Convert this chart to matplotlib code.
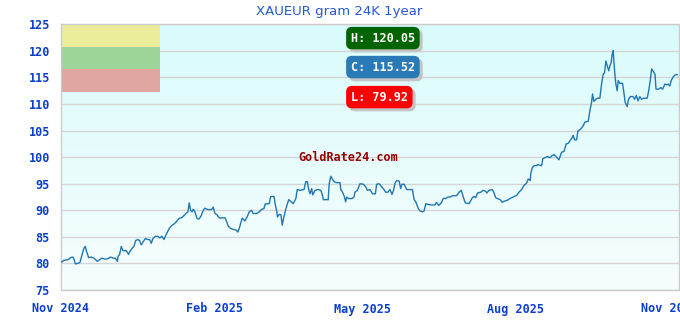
import matplotlib
matplotlib.use("Agg")
import matplotlib.pyplot as plt
import matplotlib.transforms as mtransforms
from matplotlib.colors import LinearSegmentedColormap
import numpy as np
import pandas as pd

# days since 2024-11-01 and XAUEUR price per gram
days = [0, 1.8, 4.2, 5.8, 7.2, 7.8, 8.6, 10.2, 11.4, 12.6, 13.8, 14.6, 15.4, 16.6, 18.2,
        19.8, 21.8, 23.2, 24.6, 26.2, 28.2, 29.8, 31.2, 32.6, 33.8, 34.2, 35.2, 36.2, 37.2,
        39.2, 40.6, 41.2, 42.6, 43.8, 44.8, 46.2, 47.2, 48.2, 49.2, 50.6, 51.8, 53.2, 54.2,
        55.2, 56.6, 58.2, 59.2, 60.6, 61.8, 62.6,
        65, 66.4, 67.8, 69.4, 71, 72.4, 73.8, 75, 76.2, 77, 77.8, 78.6, 79.4, 80.3, 81, 81.8,
        83, 84.2, 85.4, 86.3, 87.5, 89.4, 90.6, 91.4, 92.4, 93.5, 94.4, 95.4, 96.6, 98.4,
        99.4, 100.4, 101.8, 103.4, 105, 106.2, 107, 108, 108.8, 110.4, 111.8, 113, 114.4,
        115.4, 117.5, 119, 120.5, 121.8, 122.6,
        125, 125.9, 127.9, 128.6, 129.4, 130, 131, 132, 132.8, 133.8, 135, 136.7, 137.9,
        139.4, 141, 141.8, 143.5, 145.9, 147, 147.9, 148.7, 149.5, 150.5, 151.1, 152.5,
        154.5, 155.9, 156.7, 157.5, 159.5, 160.4, 161, 162, 163.4, 164.5, 165.5, 167.5, 168,
        169, 170, 170.9, 171.5, 172.7, 174.5, 175.9, 176.5, 177.9, 179.5,
        181.5, 183, 183.9, 185.5, 187, 188.7, 189.5, 191, 192.3, 193.9, 195, 196.2, 197.5,
        198.7, 199.5, 200.5, 201.5, 203, 203.9, 204.7, 206, 207.5, 209.5, 211, 212, 213,
        214.5, 215.5, 217, 218, 219, 220.3, 222.5, 224.5, 225.5, 226.7, 228.3, 229.5, 231,
        232.5, 233.9, 235, 237.5, 239, 240.3, 241.5, 242.7, 245,
        247, 248, 249, 250, 252, 253.4, 254.9, 255.6, 256.9, 258.9, 260, 260.9, 262, 263.7,
        264.8, 266.5, 268, 269.5, 271.5, 273.5, 274.9, 276.5, 278, 279.5, 280.5, 281.7, 282,
        282.9, 284, 285.5, 286, 288.5, 289.3, 290.5, 292, 293.5, 294.9, 296, 297.5, 298.9,
        300.5, 302, 303.3, 304.5,
        306.7, 307.5, 308.3, 309.5, 310.3, 312, 313.2, 314.5, 316.5, 317.5, 318.5, 319.1,
        319.9, 321.1, 322.3, 323.5, 324.5, 325.5, 326.3, 327.1, 327.9, 328.8, 329.5, 330.3,
        330.9, 331.5, 331.9, 332.5, 333.1, 333.9, 334.5, 335.5, 337.1, 337.9, 338.7, 339.9,
        340.7, 341.8, 343.4, 344.4, 345.4, 346.4, 347.5, 348.5, 349.9, 351.9, 352.8, 353.6,
        354.6, 355.6, 356.6, 357.2, 358.8, 360, 361.2, 362.5, 363.5, 364.5, 365.5, 366.3,
        367.5, 368.7, 369.9]
prices = [80.2, 80.6, 80.7, 81.1, 81.2, 80.8, 79.92, 80.0, 80.2, 81.6, 82.9, 83.2, 82.2, 81.1, 81.2,
          81.0, 80.4, 80.7, 81.0, 80.8, 80.9, 81.2, 81.0, 81.0, 80.4, 81.3, 81.7, 83.2, 82.4,
          82.4, 81.7, 82.2, 82.8, 83.2, 84.3, 84.5, 84.3, 83.5, 84.0, 84.7, 84.5, 84.5, 83.8,
          84.7, 85.1, 85.1, 84.8, 85.1, 84.5, 85.1,
          86.6, 87.1, 87.4, 87.9, 88.5, 88.6, 89.0, 89.4, 89.7, 91.4, 90.0, 89.7, 90.2, 89.8, 89.1, 88.4,
          88.4, 89.0, 90.0, 90.4, 90.2, 90.1, 90.2, 90.6, 89.4, 89.2, 88.8, 88.5, 88.6, 88.6,
          87.9, 87.0, 86.6, 86.4, 86.3, 85.9, 86.6, 87.7, 88.5, 88.0, 88.8, 89.7, 90.0,
          89.4, 89.4, 89.7, 90.2, 90.3, 91.2,
          91.25, 92.6, 92.6, 91.1, 90.0, 88.75, 89.2, 89.2, 87.2, 88.75, 90.3, 92.0, 91.7,
          91.25, 92.2, 93.9, 93.75, 93.9, 95.4, 95.4, 93.9, 93.1, 94.1, 92.9, 93.75,
          93.9, 93.75, 93.1, 92.0, 92.0, 92.0, 95.0, 96.4, 95.6, 95.3, 95.2, 95.2, 93.9,
          93.4, 92.7, 91.6, 92.5, 92.2, 92.2, 92.5, 93.4, 93.75, 95.0,
          94.9, 94.4, 93.75, 93.9, 93.1, 93.1, 94.9, 95.0, 94.5, 93.9, 93.4, 93.4, 93.9,
          93.0, 93.6, 95.1, 95.6, 95.5, 94.1, 94.9, 94.9, 93.9, 93.9, 93.9, 92.0, 91.6,
          90.3, 89.9, 89.7, 89.9, 91.25, 91.1, 91.0, 91.0, 91.5, 90.9, 91.4, 92.2, 92.25,
          92.5, 92.5, 92.75, 92.75, 93.4, 93.75, 92.5, 91.4, 91.25,
          92.4, 92.6, 92.4, 93.25, 93.4, 93.75, 93.6, 93.25, 93.75, 93.9, 93.25, 92.4, 92.2, 92.0,
          91.5, 91.75, 91.9, 92.2, 92.5, 92.8, 93.4, 93.9, 94.7, 95.1, 95.9, 95.6, 96.9,
          98.0, 98.4, 98.4, 98.6, 98.4, 99.7, 99.9, 100.1, 99.9, 100.3, 100.5, 100.0, 99.5,
          100.9, 101.1, 102.5, 102.6,
          103.6, 104.1, 103.25, 103.25, 104.9, 105.3, 105.75, 106.6, 106.75, 108.75, 110.3, 111.9,
          110.5, 110.9, 111.1, 111.1, 113.75, 115.6, 115.9, 118.1, 117.2, 116.25, 117.2, 117.8,
          119.4, 120.05, 118.1, 115.6, 113.75, 112.5, 114.4, 113.9, 113.9, 112.2, 110.3, 109.5,
          110.9, 111.4, 111.4, 110.9, 111.6, 110.6, 111.4, 110.9, 111.1, 111.1, 112.5, 114.1,
          116.6, 116.1, 115.6, 112.8, 112.8, 113.1, 112.8, 113.75, 113.6, 113.75, 113.4, 114.4,
          115.1, 115.5, 115.52]

tick_dates = ["2024-11-01", "2025-02-01", "2025-05-01", "2025-08-01", "2025-11-01"]
tick_labels = ["Nov 2024", "Feb 2025", "May 2025", "Aug 2025", "Nov 2025"]
y_ticks = [75, 80, 85, 90, 95, 100, 105, 110, 115, 120, 125]

high, close, low = 120.05, 115.52, 79.92

start = pd.Timestamp("2024-11-01")
dates = start + pd.to_timedelta(days, unit="D")

fig = plt.figure(figsize=(6.8, 3.2), dpi=100)
ax = fig.add_axes([61 / 680, 30 / 320, 618 / 680, 265.7 / 320])

# light cyan gradient background
cmap = LinearSegmentedColormap.from_list("bg", ["#f7fefe", "#d9fbfb"])
grad = np.linspace(0, 1, 256).reshape(-1, 1)
ax.imshow(grad, cmap=cmap, origin="lower", extent=[0, 1, 0, 1],
          transform=ax.transAxes, aspect="auto", zorder=0)

for v in y_ticks:
    ax.axhline(v, color="#d6d6d6", lw=1, zorder=1)

# colored bands top left
box_w = 99 / 618
ax.axhspan(120.6, 125, xmin=0, xmax=box_w, color="#ebed9a", zorder=2, lw=0)
ax.axhspan(116.5, 120.75, xmin=0, xmax=box_w, color="#9cd49a", zorder=2, lw=0)
ax.axhspan(112.3, 116.5, xmin=0, xmax=box_w, color="#e0a7a0", zorder=2, lw=0)

ax.plot(dates, prices, color="#1f77b4", lw=1.0, zorder=3)

ax.set_xlim(start, pd.Timestamp("2025-11-07"))
ax.set_ylim(75, 125)

mono = dict(family="DejaVu Sans Mono", weight="bold", size=8.5)
ax.set_xticks(pd.to_datetime(tick_dates))
ax.set_xticklabels(tick_labels, color="#0a3ed0", **mono)
ax.set_yticks(y_ticks)
ax.set_yticklabels([str(v) for v in y_ticks], color="#0a3ed0", **mono)
ax.tick_params(axis="both", length=0)
ax.tick_params(axis="y", pad=8)
ax.tick_params(axis="x", pad=9)
for s in ax.spines.values():
    s.set_color("#cccccc")
    s.set_linewidth(1)

# H / C / L badges with drop shadow (shadow box is drawn from blanks of same width)
badges = [("H: %.2f" % high, "#006400", 0.948),
          ("C: %.2f" % close, "#2a7ab8", 0.839),
          ("L: %.2f" % low, "#ff0000", 0.726)]
shadow = mtransforms.offset_copy(ax.transAxes, fig=fig, x=3, y=-3, units="dots")
for txt, col, yy in badges:
    ax.text(0.469, yy, " " * len(txt), transform=shadow, va="center", ha="left",
            zorder=4, **mono,
            bbox=dict(boxstyle="round,pad=0.4,rounding_size=0.5", fc="#c4c4c4", ec="none"))
    ax.text(0.469, yy, txt, transform=ax.transAxes, va="center", ha="left",
            color="white", zorder=5, **mono,
            bbox=dict(boxstyle="round,pad=0.4,rounding_size=0.5", fc=col, ec="none"))

ax.text(0.464, 0.50, "GoldRate24.com", transform=ax.transAxes, ha="center", va="center",
        color="#990000", zorder=4, **mono)

fig.text(339 / 680, 1 - 11 / 320, "XAUEUR gram 24K 1year", ha="center", va="center",
         color="#2458d8", fontsize=9.5, family="DejaVu Sans")

fig.savefig("out.png", dpi=100)
